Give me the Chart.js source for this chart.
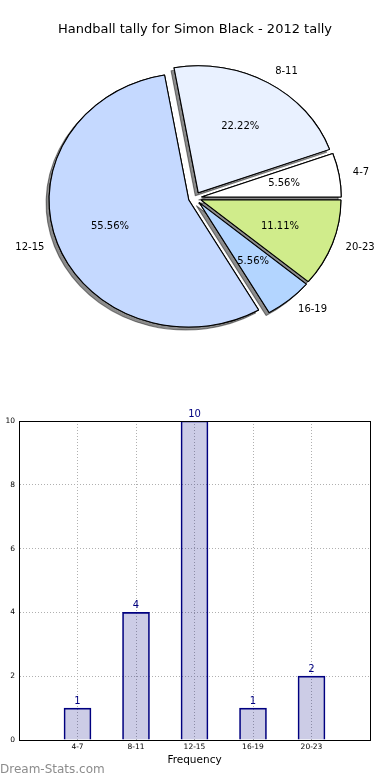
<!DOCTYPE html>
<html>
<head>
<meta charset="utf-8">
<script src="https://cdn.jsdelivr.net/npm/chart.js@4.4.0/dist/chart.umd.min.js"></script>
<style>
    body { margin: 0; background: #fff; }
    #caixa { position: relative; width: 390px; height: 780px; overflow: hidden; }
    #pastis { position: absolute; left: 0; top: 0; }
    #barres { position: absolute; left: 0; top: 400px; }
    #marca { position: absolute; left: 0; top: 762px; font: 12px "DejaVu Sans", sans-serif; color: #8c8c8c; }
</style>
</head>
<body>
<div id="caixa">
    <canvas id="pastis" width="390" height="370"></canvas>
    <canvas id="barres" width="390" height="380"></canvas>
    <div id="marca">Dream-Stats.com</div>
</div>
<script>
// dades
let categories = ["4-7", "8-11", "12-15", "16-19", "20-23"];
let tally = [1, 4, 10, 1, 2];
let colorsPastis = ["#ffffff", "#e9f1ff", "#c5d9ff", "#b3d5ff", "#d0ec8b"];
let titol = "Handball tally for Simon Black - 2012 tally";
let titolX = "Frequency";

// el pastis de matplotlib no es rodo, es una el·lipse
let escalaX = 1.10;
let radi = 127;
let separacio = 6;

Chart.defaults.font.family = "'DejaVu Sans', sans-serif";
Chart.defaults.color = "#000";

// matplotlib va en sentit antihorari des de l'est, Chart.js en sentit horari
let etiquetesPastis = categories.slice().reverse();
let valorsPastis = tally.slice().reverse();
let fonsPastis = colorsPastis.slice().reverse();

// cada tros desplaçat cap enfora, amb ombra al darrere de tots
let estirar = {
    id: "estirar",
    beforeDatasetDraw(chart, args) {
        let ctx = chart.ctx;
        let arcs = args.meta.data;
        let cx = arcs[0].x;
        let cy = arcs[0].y;
        for (let passada = 0; passada < 2; passada++) {
            for (let i = 0; i < arcs.length; i++) {
                let arc = arcs[i];
                let mig = (arc.startAngle + arc.endAngle) / 2;
                ctx.save();
                if (passada == 0) {
                    ctx.shadowColor = "rgba(0, 0, 0, 0.45)";
                    ctx.shadowOffsetX = -3;
                    ctx.shadowOffsetY = 3;
                    ctx.shadowBlur = 0;
                }
                ctx.translate(cx + Math.cos(mig) * separacio * escalaX, cy + Math.sin(mig) * separacio);
                ctx.scale(escalaX, 1);
                ctx.translate(-cx, -cy);
                arc.draw(ctx, chart.chartArea);
                ctx.restore();
            }
        }
        return false;
    }
};

let textosPastis = {
    id: "textosPastis",
    afterDraw(chart) {
        let ctx = chart.ctx;
        let meta = chart.getDatasetMeta(0);
        let total = 0;
        for (let i = 0; i < valorsPastis.length; i++) {
            total = total + valorsPastis[i];
        }
        ctx.save();
        ctx.font = "10px 'DejaVu Sans'";
        ctx.fillStyle = "#000";
        ctx.textBaseline = "middle";
        for (let i = 0; i < meta.data.length; i++) {
            let arc = meta.data[i];
            let mig = (arc.startAngle + arc.endAngle) / 2;
            let cos = Math.cos(mig);
            let sin = Math.sin(mig);
            let cx = arc.x + cos * separacio * escalaX;
            let cy = arc.y + sin * separacio;
            let r = arc.outerRadius;

            ctx.textAlign = cos > 0 ? "left" : "right";
            ctx.fillText(etiquetesPastis[i], cx + 1.1 * r * cos * escalaX, cy + 1.1 * r * sin);

            ctx.textAlign = "center";
            let pct = (valorsPastis[i] / total * 100).toFixed(2) + "%";
            ctx.fillText(pct, cx + 0.6 * r * cos * escalaX, cy + 0.6 * r * sin);
        }
        ctx.restore();
    }
};

new Chart(document.getElementById("pastis"), {
    type: "pie",
    data: {
        labels: etiquetesPastis,
        datasets: [{
            data: valorsPastis,
            backgroundColor: fonsPastis,
            borderColor: "#000",
            borderWidth: 1
        }]
    },
    options: {
        responsive: false,
        animation: false,
        rotation: 90,
        radius: radi,
        layout: { padding: { bottom: 19.6 } },
        events: [],
        plugins: {
            legend: { display: false },
            tooltip: { enabled: false },
            title: {
                display: true,
                text: titol,
                color: "#000",
                font: { size: 13, weight: "normal" },
                padding: { top: 22, bottom: 8 }
            }
        }
    },
    plugins: [estirar, textosPastis]
});

let caixaEixos = {
    id: "caixaEixos",
    afterDraw(chart) {
        let a = chart.chartArea;
        let ctx = chart.ctx;
        ctx.save();
        ctx.strokeStyle = "#000";
        ctx.lineWidth = 1;
        ctx.strokeRect(a.left + 0.5, a.top + 0.5, a.right - a.left, a.bottom - a.top);
        ctx.restore();
    }
};

let valorsBarres = {
    id: "valorsBarres",
    afterDatasetsDraw(chart) {
        let ctx = chart.ctx;
        let meta = chart.getDatasetMeta(0);
        ctx.save();
        ctx.font = "10px 'DejaVu Sans'";
        ctx.fillStyle = "#000080";
        ctx.textAlign = "center";
        ctx.textBaseline = "bottom";
        for (let i = 0; i < meta.data.length; i++) {
            let barra = meta.data[i];
            ctx.fillText(String(tally[i]), barra.x, barra.y - 2);
        }
        ctx.restore();
    }
};

let punts = [];
for (let i = 0; i < categories.length; i++) {
    punts.push({ x: i + 1, y: tally[i] });
}

new Chart(document.getElementById("barres"), {
    type: "bar",
    data: {
        datasets: [{
            data: punts,
            backgroundColor: "rgba(0, 0, 128, 0.2)",
            borderColor: "#000080",
            borderWidth: 1,
            barThickness: 27
        }]
    },
    options: {
        responsive: false,
        animation: false,
        events: [],
        layout: { padding: { top: 21, right: 20, left: 0, bottom: 0 } },
        plugins: {
            legend: { display: false },
            tooltip: { enabled: false }
        },
        scales: {
            x: {
                type: "linear",
                min: 0,
                max: categories.length + 1,
                offset: false,
                afterFit: function (s) { s.height = 40; },
                ticks: {
                    stepSize: 1,
                    autoSkip: false,
                    maxRotation: 0,
                    padding: 3,
                    color: "#000",
                    font: { size: 7.5 },
                    callback: function (v) { return categories[v - 1] || ""; }
                },
                grid: { color: "#b0b0b0", drawTicks: false, offset: false },
                border: { color: "#000", dash: [1, 2] },
                title: {
                    display: true,
                    text: titolX,
                    color: "#000",
                    font: { size: 10.5 },
                    padding: { top: 0, bottom: 13 }
                }
            },
            y: {
                min: 0,
                max: 10,
                afterFit: function (s) { s.width = 19; },
                ticks: {
                    stepSize: 2,
                    padding: 4,
                    color: "#000",
                    font: { size: 7.5 }
                },
                grid: { color: "#b0b0b0", drawTicks: false },
                border: { color: "#000", dash: [1, 2] }
            }
        }
    },
    plugins: [caixaEixos, valorsBarres]
});
</script>
</body>
</html>
